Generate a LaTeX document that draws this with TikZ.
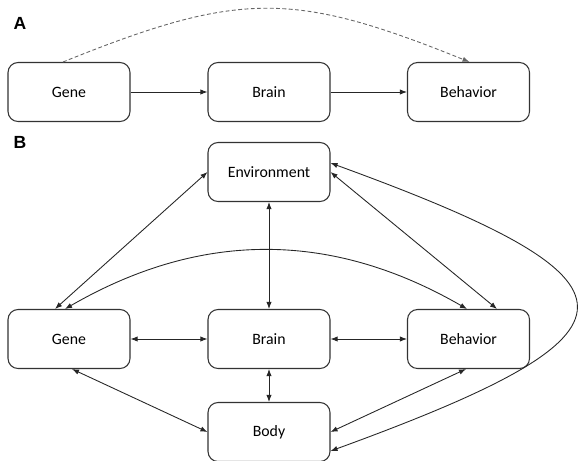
\documentclass[tikz,border=0pt]{standalone}
\usepackage{fontspec}
\setmainfont{Carlito}
\newfontfamily\panelfont{Liberation Sans}
\usetikzlibrary{arrows.meta,positioning,calc}

\begin{document}
\begin{tikzpicture}[
    x=0.02cm, y=-0.02cm,
    box/.style={rectangle, draw=black!80, rounded corners=0.2cm, minimum width=2.44cm, minimum height=1.18cm, line width=0.6pt, font=\fontsize{9}{11}\selectfont},
    panel/.style={font=\panelfont\bfseries\fontsize{10}{12}\selectfont},
    arrow/.style={-{Latex[length=4pt,width=3pt]}, line width=0.5pt, black!85},
    both/.style={{Latex[length=4pt,width=3pt]}-{Latex[length=4pt,width=3pt]}, line width=0.5pt, black!85}
]
    \useasboundingbox (0,0) rectangle (580,460);

    % Panel A
    \node[panel] (labA) at (20,23) {A};
    \node[box] (geneA) at (69,92) {Gene};
    \node[box] (brainA) at (269,92) {Brain};
    \node[box] (behavA) at (468.5,92) {Behavior};

    \draw[arrow] (geneA) -- (brainA);
    \draw[arrow] (brainA) -- (behavA);
    \draw[arrow, black!60, dash pattern=on 2.2pt off 1.4pt]
        ([xshift=-0.12cm]geneA.north) to[out=22, in=158, looseness=1.2] ([xshift=0.02cm]behavA.north);

    % Panel B
    \node[panel] (labB) at (20,142) {B};
    \node[box] (env) at (269,172) {Environment};
    \node[box] (gene) at (69,339) {Gene};
    \node[box] (brain) at (269,339) {Brain};
    \node[box] (behav) at (468.5,339) {Behavior};
    \node[box] (body) at (269,432) {Body};

    % Environment
    \draw[both] (env.west) -- ([xshift=-0.28cm]gene.north);
    \draw[both] (env.east) -- ([xshift=0.57cm]behav.north);
    \draw[both] (env) -- (brain);
    \draw[both] ([yshift=0.18cm]env.east) to[out=-20, in=20, looseness=3.1] ([yshift=-0.38cm]body.east);

    % Gene / Behavior
    \draw[both] ([xshift=-0.08cm]gene.north) to[out=30, in=150, looseness=1] ([xshift=-0.03cm]behav.north);

    % Brain row
    \draw[both] (gene) -- (brain);
    \draw[both] (brain) -- (behav);
    \draw[both] (brain) -- (body);

    % Body
    \draw[both] ([xshift=0.06cm]gene.south) -- (body.west);
    \draw[both] ([xshift=-0.05cm]behav.south) -- (body.east);
\end{tikzpicture}
\end{document}
